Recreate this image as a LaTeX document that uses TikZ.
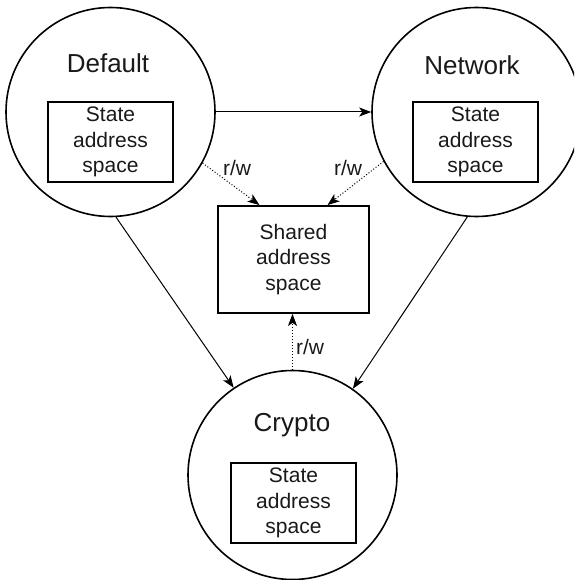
\documentclass[tikz,border=0pt]{standalone}
\usepackage{fontspec}
\setmainfont{Liberation Sans}
\usetikzlibrary{arrows.meta,calc}

\tikzset{
  proc/.style={circle, draw, line width=1.6pt, minimum size=209pt, inner sep=0pt},
  title/.style={font=\fontsize{26}{30}\selectfont, text=black!90},
  statebox/.style={rectangle, draw, line width=1.6pt, minimum width=125pt, minimum height=80pt,
    align=center, inner sep=0pt, font=\fontsize{21}{25.5}\selectfont, text=black!90},
  sharedbox/.style={rectangle, draw, line width=1.8pt, minimum width=151pt, minimum height=107pt,
    align=center, inner sep=0pt, font=\fontsize{21}{25.5}\selectfont, text=black!90},
  flow/.style={line width=1pt, -{Stealth[length=12pt, width=9pt, inset=3pt]}},
  rw/.style={line width=1pt, dash pattern=on 1pt off 2pt, -{Stealth[length=12pt, width=9pt, inset=3pt]}},
  lbl/.style={font=\fontsize{21}{25}\selectfont, inner sep=0pt, text=black!90}
}

\begin{document}
\begin{tikzpicture}[x=1pt, y=-1pt]
  \useasboundingbox (0,0) rectangle (574,580);
  \clip (0,0) rectangle (574,580);

  % processes
  \node[proc] (default) at (110.5,112) {};
  \node[proc] (network) at (476.5,112) {};
  \node[proc] (crypto)  at (292.5,475) {};

  \node[title] (tdefault) at (108,63)  {Default};
  \node[title] (tnetwork) at (472,65)  {Network};
  \node[title] (tcrypto)  at (292,425) {Crypto};

  % private state of each process
  \node[statebox] (sdefault) at (110.5,142) {State\\address\\space};
  \node[statebox] (snetwork) at (475.5,142) {State\\address\\space};
  \node[statebox] (scrypto)  at (293.5,503) {State\\address\\space};

  % shared memory
  \node[sharedbox] (shared) at (293.5,259.5) {Shared\\address\\space};

  % control flow between processes
  \draw[flow] (default.east) -- (network.west);
  \draw[flow] (default.-87) -- (crypto.124);
  \draw[flow] (network.-95) -- (crypto.55);

  % read/write access to the shared space
  \draw[rw] (default.-29) -- (shared.122);
  \draw[rw] (network.208) -- (shared.58);
  \draw[rw] (crypto.north) -- (crypto.north |- shared.south);

  \node[lbl] (rw1) at (237,168) {r/w};
  \node[lbl] (rw2) at (348,168) {r/w};
  \node[lbl] (rw3) at (310,347) {r/w};
\end{tikzpicture}
\end{document}
